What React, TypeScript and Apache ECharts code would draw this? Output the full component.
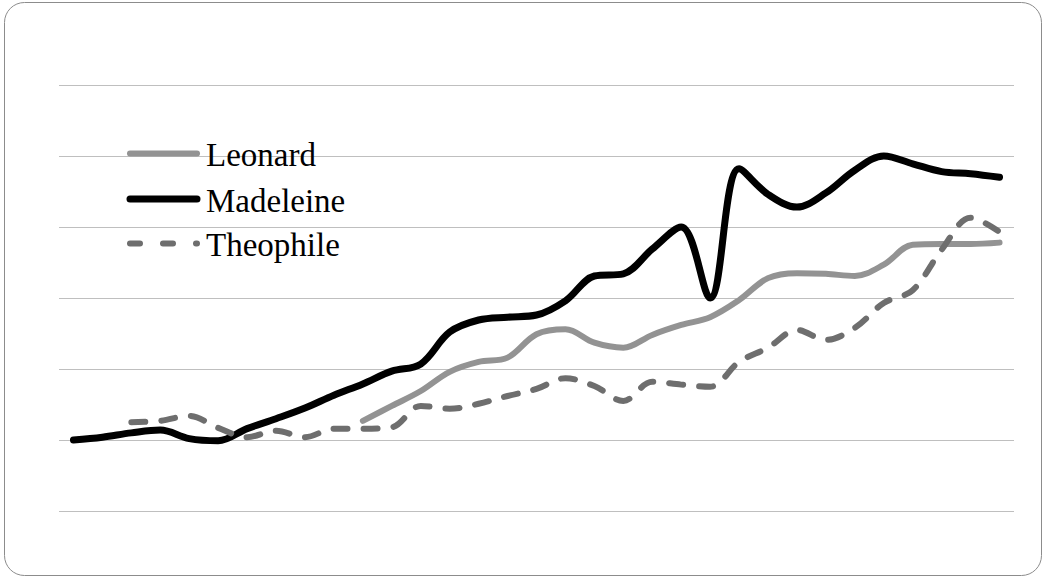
import React, { useEffect, useRef } from "react";
import * as echarts from "echarts";

const categories = [
  "1", "2", "3", "4", "5", "6", "7", "8", "9", "10", "11",
  "12", "13", "14", "15", "16", "17", "18", "19", "20", "21", "22",
  "23", "24", "25", "26", "27", "28", "29", "30", "31", "32", "33",
];

const seriesNames = ["Leonard", "Madeleine", "Theophile"];

const leonard = [
  null, null, null, null, null, null, null, null, null, null,
  12.7, 14.8, 16.9, 19.6, 21.0, 21.6, 24.9, 25.6, 23.7, 23.0,
  24.8, 26.2, 27.3, 29.7, 32.8, 33.5, 33.4, 33.1, 34.7, 37.5,
  37.6, 37.6, 37.8,
];

const madeleine = [
  10.0, 10.4, 11.0, 11.4, 10.2, 9.9, 11.6, 13.0, 14.5, 16.3,
  17.9, 19.7, 20.7, 25.2, 26.9, 27.3, 27.6, 29.6, 33.1, 33.4,
  36.9, 40.0, 30.0, 48.2, 44.6, 42.8, 44.8, 48.0, 50.0, 48.9,
  47.8, 47.5, 47.0,
];

const theophile = [
  null, null, 12.5, 12.7, 13.4, 11.7, 10.4, 11.3, 10.4, 11.6,
  11.6, 11.8, 14.8, 14.4, 15.1, 16.2, 17.2, 18.7, 17.6, 15.5,
  18.2, 17.8, 17.5, 21.0, 23.0, 25.5, 24.1, 25.8, 29.3, 31.1,
  36.8, 41.3, 39.3,
];

const yTicks = { min: 0, max: 60, interval: 10 };

const colors = { Leonard: "#939393", Madeleine: "#000000", Theophile: "#6e6e6e" };

export default function App() {
  const ref = useRef<HTMLDivElement>(null);

  useEffect(() => {
    if (!ref.current) return;
    const chart = echarts.init(ref.current, null, { renderer: "svg" });

    const legendRows = [
      { name: seriesNames[0], iconY: 153.5, textY: 155, width: 6, dash: null as number[] | null },
      { name: seriesNames[1], iconY: 199, textY: 200.5, width: 7, dash: null },
      { name: seriesNames[2], iconY: 243.5, textY: 245, width: 6, dash: [10, 23] },
    ];
    const legendGraphics: any[] = [];
    legendRows.forEach((r) => {
      legendGraphics.push({
        type: "line",
        silent: true,
        shape: { x1: 130, y1: r.iconY, x2: 197, y2: r.iconY },
        style: {
          stroke: (colors as any)[r.name],
          lineWidth: r.width,
          lineCap: "round",
          lineDash: r.dash || undefined,
        },
        z: 10,
      });
      legendGraphics.push({
        type: "text",
        silent: true,
        x: 206,
        y: r.textY,
        style: {
          text: r.name,
          fontFamily: "Liberation Serif",
          fontSize: 33,
          fill: "#000000",
          verticalAlign: "middle",
          align: "left",
        },
        z: 10,
      });
    });

    chart.setOption({
      animation: false,
      backgroundColor: "#ffffff",
      graphic: [
        {
          type: "rect",
          silent: true,
          shape: { x: 4.5, y: 2.5, width: 1037, height: 573, r: 20 },
          style: { fill: "none", stroke: "#8c8c8c", lineWidth: 1 },
          z: -10,
        },
        ...legendGraphics,
      ],
      grid: { left: 59, right: 29, top: 85, bottom: 67 },
      xAxis: {
        type: "category",
        data: categories,
        boundaryGap: true,
        axisLine: { show: false },
        axisTick: { show: false },
        axisLabel: { show: false },
        splitLine: { show: false },
      },
      yAxis: {
        type: "value",
        min: yTicks.min,
        max: yTicks.max,
        interval: yTicks.interval,
        axisLine: { show: false },
        axisTick: { show: false },
        axisLabel: { show: false },
        splitLine: { show: true, lineStyle: { color: "#bfbfbf", width: 1 } },
      },
      series: [
        {
          name: seriesNames[0],
          type: "line",
          data: leonard,
          smooth: 0.35,
          symbol: "none",
          lineStyle: { color: colors.Leonard, width: 6, cap: "round", join: "round" },
          itemStyle: { color: colors.Leonard },
        },
        {
          name: seriesNames[1],
          type: "line",
          data: madeleine,
          smooth: 0.35,
          symbol: "none",
          lineStyle: { color: colors.Madeleine, width: 7, cap: "round", join: "round" },
          itemStyle: { color: colors.Madeleine },
        },
        {
          name: seriesNames[2],
          type: "line",
          data: theophile,
          smooth: 0.35,
          symbol: "none",
          lineStyle: {
            color: colors.Theophile,
            width: 6,
            type: [14, 16],
            cap: "round",
            join: "round",
          },
          itemStyle: { color: colors.Theophile },
        },
      ],
    });
    return () => chart.dispose();
  }, []);

  return (
    <div
      ref={ref}
      style={{ position: "fixed", left: 0, top: 0, width: 1043, height: 578 }}
    />
  );
}
